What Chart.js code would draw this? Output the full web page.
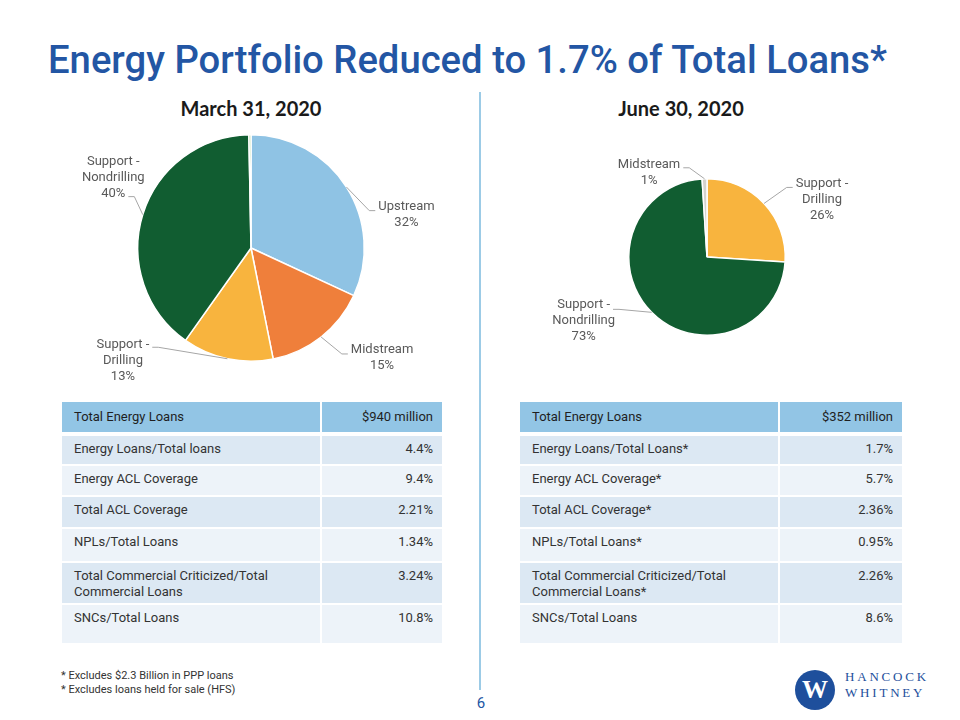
<!DOCTYPE html>
<html>
<head>
<meta charset="utf-8">
<script src="https://cdn.jsdelivr.net/npm/chart.js@4.4.1/dist/chart.umd.min.js"></script>
<style>
  html, body { margin: 0; padding: 0; background: #fff; }
  #page { position: relative; width: 960px; height: 720px; overflow: hidden; font-family: Roboto, "Liberation Sans", sans-serif; }
  #title { position: absolute; left: 48px; top: 38px; font-size: 38px; line-height: 44px; font-weight: 500; color: #2356a4; white-space: nowrap; transform-origin: 0 0; }
  .sub { position: absolute; top: 96px; width: 300px; text-align: center; font-family: Lato, "Open Sans", sans-serif; font-weight: 700; font-size: 20px; line-height: 24px; color: #1a1a1a; }
  #divider { position: absolute; left: 479px; top: 92px; width: 2px; height: 598px; background: #9ccbe6; }
  canvas { position: absolute; }
  .tbl { position: absolute; top: 402px; display: grid; row-gap: 2px; column-gap: 2px;
         grid-template-rows: 32px 28px 29px 30px 32px 40px 38px; font-size: 13px; line-height: 16px; color: #333; }
  .tbl div { box-sizing: border-box; padding: 5px 9px 0 12px; white-space: pre-line; }
  .tbl .v { text-align: right; }
  .tbl .h { background: #92c5e5; margin-bottom: 2px; color: #1f1f1f; padding-top: 7px; }
  .tbl .d { background: #dce8f3; }
  .tbl .l { background: #edf3f9; }
  #foot { position: absolute; left: 61px; top: 669px; font-size: 11px; line-height: 13.5px; color: #333; }
  #pnum { position: absolute; left: 461px; width: 40px; top: 694px; text-align: center; font-size: 15px; line-height: 18px; color: #2356a4; }
  #logoCircle { position: absolute; left: 795px; top: 670px; width: 40px; height: 40px; border-radius: 50%; background: #1e4f9c;
                color: #fff; font-family: "Liberation Serif", "DejaVu Serif", serif; font-weight: 700; font-size: 26px; line-height: 40px; text-align: center; }
  .logoTxt { position: absolute; left: 845px; font-family: "Liberation Serif", "DejaVu Serif", serif; font-size: 13px; line-height: 16px; letter-spacing: 2.8px; color: #1e4f9c; }
</style>
</head>
<body>
<div id="page">
  <div id="title">Energy Portfolio Reduced to 1.7% of Total Loans*</div>
  <div class="sub" style="left:101px">March 31, 2020</div>
  <div class="sub" style="left:531px">June 30, 2020</div>
  <div id="divider"></div>
  <canvas id="pieMarch" width="420" height="270" style="left:40px;top:125px;width:420px;height:270px"></canvas>
  <canvas id="pieJune" width="420" height="230" style="left:500px;top:140px;width:420px;height:230px"></canvas>
  <div class="tbl" id="tblMarch" style="left:62px;grid-template-columns:258px 120px"></div>
  <div class="tbl" id="tblJune" style="left:520px;grid-template-columns:258px 122px"></div>
  <div id="foot">* Excludes $2.3 Billion in PPP loans<br>* Excludes loans held for sale (HFS)</div>
  <div id="pnum">6</div>
  <div id="logoCircle">W</div>
  <div class="logoTxt" style="top:669px">HANCOCK</div>
  <div class="logoTxt" style="top:685px">WHITNEY</div>
</div>
<script>
// ---------- data ----------
const marchCategories = ['Upstream', 'Midstream', 'Support - Drilling', 'Support - Nondrilling', 'Other'];
const marchShares = [32, 15, 13, 40, 0.3];
const juneCategories = ['Support - Drilling', 'Support - Nondrilling', 'Midstream'];
const juneShares = [26, 73, 1];

const tableHeaderLabel = 'Total Energy Loans';
const marchTotalLoans = '$940 million';
const juneTotalLoans = '$352 million';
const marchMetricLabels = ['Energy Loans/Total loans', 'Energy ACL Coverage', 'Total ACL Coverage', 'NPLs/Total Loans',
  'Total Commercial Criticized/Total\nCommercial Loans', 'SNCs/Total Loans'];
const marchMetricValues = ['4.4%', '9.4%', '2.21%', '1.34%', '3.24%', '10.8%'];
const juneMetricLabels = ['Energy Loans/Total Loans*', 'Energy ACL Coverage*', 'Total ACL Coverage*', 'NPLs/Total Loans*',
  'Total Commercial Criticized/Total\nCommercial Loans*', 'SNCs/Total Loans'];
const juneMetricValues = ['1.7%', '5.7%', '2.36%', '0.95%', '2.26%', '8.6%'];

// ---------- styles ----------
const marchColors = { 'Upstream': '#8fc3e4', 'Midstream': '#ef7f3b', 'Support - Drilling': '#f8b43e', 'Support - Nondrilling': '#115d31', 'Other': '#a8d08d' };
const juneColors = { 'Support - Drilling': '#f8b43e', 'Support - Nondrilling': '#115d31', 'Midstream': '#d4d2cc' };
// label placement relative to the slice's outer edge at its mid-angle
const marchLabelPos = {
  'Upstream': { dx: 60, dy: 27.6, line: 0, ady: 4 },
  'Midstream': { dx: 61, dy: 21, line: 0, ady: 4 },
  'Support - Drilling': { dx: -104.5, dy: 1.5, line: 0, ady: 3 },
  'Support - Nondrilling': { dx: -29.5, dy: -37, line: 2, ady: 3 }
};
const juneLabelPos = {
  'Support - Drilling': { dx: 58, dy: -4, line: 0, ady: 4 },
  'Support - Nondrilling': { dx: -68, dy: 8, line: 0, ady: 5 },
  'Midstream': { dx: -55.5, dy: -6, line: 0, ady: 3 }
};

// ---------- tables ----------
function buildTable(el, totalValue, labels, values) {
  const add = (cls, txt) => { const d = document.createElement('div'); d.className = cls; d.textContent = txt; el.appendChild(d); };
  add('h', tableHeaderLabel);
  add('h v', totalValue);
  labels.forEach((lab, i) => {
    const shade = i % 2 === 0 ? 'd' : 'l';
    add(shade, lab);
    add(shade + ' v', values[i]);
  });
}
buildTable(document.getElementById('tblMarch'), marchTotalLoans, marchMetricLabels, marchMetricValues);
buildTable(document.getElementById('tblJune'), juneTotalLoans, juneMetricLabels, juneMetricValues);

// ---------- title fit ----------
const titleEl = document.getElementById('title');
const tw = titleEl.getBoundingClientRect().width;
titleEl.style.transform = 'scaleX(' + (839 / tw) + ')';

// ---------- pie label plugin ----------
const pieLabels = {
  id: 'pieLabels',
  afterDatasetsDraw(chart, args, opts) {
    const ctx = chart.ctx;
    const meta = chart.getDatasetMeta(0);
    const values = chart.data.datasets[0].data;
    const total = values.reduce((a, b) => a + b, 0);
    ctx.save();
    ctx.font = '13px Roboto, "Liberation Sans", sans-serif';
    ctx.textAlign = 'center';
    ctx.textBaseline = 'middle';
    meta.data.forEach((arc, i) => {
      const cat = chart.data.labels[i];
      const pos = opts.positions[cat];
      if (!pos) return;
      const p = arc.getProps(['x', 'y', 'startAngle', 'endAngle', 'outerRadius'], true);
      const mid = (p.startAngle + p.endAngle) / 2;
      const ex = p.x + Math.cos(mid) * p.outerRadius;
      const ey = p.y + Math.sin(mid) * p.outerRadius;
      const pct = Math.round(values[i] / total * 100) + '%';
      const lines = cat.indexOf(' - ') >= 0 ? [cat.split(' - ')[0] + ' -', cat.split(' - ')[1], pct] : [cat, pct];
      const lh = 16;
      const cx = ex + pos.dx, cy = ey + pos.dy;
      const y0 = cy - (lines.length - 1) * lh / 2;
      const lw = ctx.measureText(lines[pos.line]).width;
      const side = pos.dx > 0 ? -1 : 1;
      const ax = cx + side * (lw / 2 + 3);
      const ay = y0 + pos.line * lh + pos.ady;
      const bx = ax + side * 6;
      ctx.strokeStyle = '#a6a6a6';
      ctx.lineWidth = 1;
      ctx.beginPath();
      ctx.moveTo(ex, ey);
      ctx.lineTo(bx, ay);
      ctx.lineTo(ax, ay);
      ctx.stroke();
      ctx.fillStyle = '#595959';
      lines.forEach((t, k) => ctx.fillText(t, cx, y0 + k * lh));
    });
    ctx.restore();
  }
};

function makePie(id, cats, vals, colors, positions, padding) {
  new Chart(document.getElementById(id), {
    type: 'pie',
    data: {
      labels: cats,
      datasets: [{ data: vals, backgroundColor: cats.map(c => colors[c]), borderColor: '#ffffff', borderWidth: 1.5 }]
    },
    options: {
      responsive: false,
      animation: false,
      layout: { padding: padding },
      plugins: { legend: { display: false }, tooltip: { enabled: false }, pieLabels: { positions: positions } }
    },
    plugins: [pieLabels]
  });
}
makePie('pieMarch', marchCategories, marchShares, marchColors, marchLabelPos, { top: 9, bottom: 33, left: 2, right: 0 });
makePie('pieJune', juneCategories, juneShares, juneColors, juneLabelPos, { top: 38, bottom: 34, left: 0, right: 6 });
</script>
</body>
</html>
